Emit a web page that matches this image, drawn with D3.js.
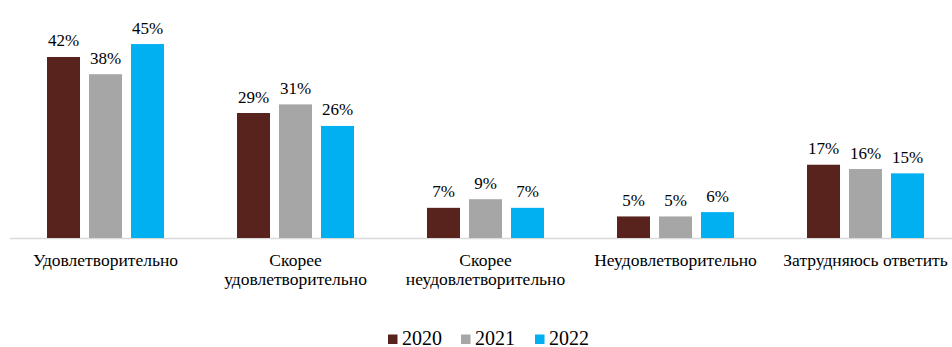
<!DOCTYPE html>
<html>
<head>
<meta charset="utf-8">
<script src="https://cdn.jsdelivr.net/npm/d3@7"></script>
<style>
  html, body { margin: 0; padding: 0; background: #fff; }
  svg { display: block; }
</style>
</head>
<body>
<svg id="chart" width="952" height="347"></svg>
<script>
const categories = ["Удовлетворительно", "Скорее удовлетворительно", "Скорее неудовлетворительно", "Неудовлетворительно", "Затрудняюсь ответить"];
const seriesNames = ["2020", "2021", "2022"];
const values2020 = [42, 29, 7, 5, 17];
const values2021 = [38, 31, 9, 5, 16];
const values2022 = [45, 26, 7, 6, 15];
const colors = ["#58221d", "#a6a6a6", "#00b0f0"];

const FONT = '"Liberation Serif"';
const seriesValues = [values2020, values2021, values2022];
const data = categories.map((c, i) => ({
  category: c,
  values: seriesNames.map((s, j) => ({ series: s, value: seriesValues[j][i] }))
}));

const svg = d3.select("#chart");
const baseY = 238;

const x0 = d3.scaleBand().domain(categories).range([10.5, 960.5]).paddingInner(0).paddingOuter(0);
const x1 = d3.scaleBand().domain(seriesNames).range([x0.bandwidth() / 2 - 63, x0.bandwidth() / 2 + 63]).paddingInner(9 / 42).paddingOuter(4.5 / 42);
const y = d3.scaleLinear().domain([0, 50]).range([baseY, 22.5]);
const color = d3.scaleOrdinal().domain(seriesNames).range(colors);

// axis line
svg.append("line")
  .attr("x1", 10).attr("x2", 952)
  .attr("y1", baseY + 0.5).attr("y2", baseY + 0.5)
  .attr("stroke", "#d9d9d9").attr("stroke-width", 1.5);

const groups = svg.selectAll("g.grp").data(data).enter().append("g")
  .attr("class", "grp")
  .attr("transform", d => `translate(${x0(d.category)},0)`);

groups.selectAll("rect").data(d => d.values).enter().append("rect")
  .attr("x", d => x1(d.series))
  .attr("width", x1.bandwidth())
  .attr("y", d => y(d.value))
  .attr("height", d => baseY - y(d.value))
  .attr("fill", d => color(d.series));

groups.selectAll("text.val").data(d => d.values).enter().append("text")
  .attr("class", "val")
  .attr("x", d => x1(d.series) + x1.bandwidth() / 2)
  .attr("y", d => y(d.value) - 10.5)
  .attr("text-anchor", "middle")
  .style("font-family", FONT)
  .style("font-size", "17px")
  .attr("fill", "#000")
  .text(d => d.value + "%");

// category labels with word wrap
const xAxis = d3.axisBottom(x0).tickSize(0).tickPadding(0);
const axisG = svg.append("g").attr("transform", `translate(0,${baseY})`).call(xAxis);
axisG.attr("font-family", null).attr("font-size", null);
axisG.select(".domain").remove();
axisG.selectAll(".tick text")
  .style("font-family", FONT)
  .style("font-size", "17.5px")
  .attr("fill", "#000")
  .attr("dy", null)
  .attr("y", 0)
  .each(function(d) {
    const t = d3.select(this);
    const words = d.split(" ");
    t.text(null);
    const lines = [];
    let line = [];
    const probe = t.append("tspan");
    words.forEach(w => {
      const test = line.concat([w]).join(" ");
      probe.text(test);
      if (probe.node().getComputedTextLength() > 178 && line.length) {
        lines.push(line.join(" "));
        line = [w];
      } else {
        line.push(w);
      }
    });
    lines.push(line.join(" "));
    probe.remove();
    lines.forEach((l, i) => {
      t.append("tspan").attr("x", 0).attr("y", 28 + i * 18.5).text(l);
    });
  });

// legend
const legendX = [388, 461, 535];
const legend = svg.append("g");
seriesNames.forEach((s, i) => {
  legend.append("rect")
    .attr("x", legendX[i]).attr("y", 334.5)
    .attr("width", 9.5).attr("height", 9.5)
    .attr("fill", color(s));
  legend.append("text")
    .attr("x", legendX[i] + 14).attr("y", 344.5)
    .style("font-family", FONT)
    .style("font-size", "20px")
    .attr("fill", "#000")
    .text(s);
});
</script>
</body>
</html>
